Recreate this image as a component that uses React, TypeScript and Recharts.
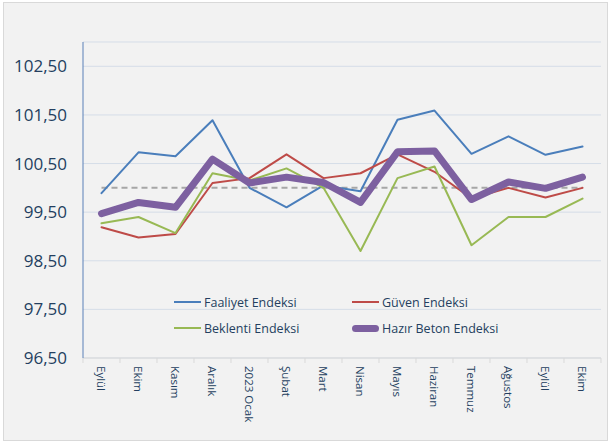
import { CartesianGrid, Line, LineChart, XAxis, YAxis } from "recharts";

const months = [
  "Eylül", "Ekim", "Kasım", "Aralık", "2023 Ocak", "Şubat", "Mart",
  "Nisan", "Mayıs", "Haziran", "Temmuz", "Ağustos", "Eylül", "Ekim",
];
const faaliyet = [99.89, 100.73, 100.65, 101.39, 100.0, 99.6, 100.05, 99.93, 101.4, 101.59, 100.7, 101.06, 100.68, 100.85];
const guven = [99.19, 98.98, 99.05, 100.1, 100.2, 100.69, 100.2, 100.3, 100.69, 100.33, 99.78, 100.0, 99.8, 100.0];
const beklenti = [99.27, 99.4, 99.07, 100.3, 100.15, 100.4, 100.0, 98.7, 100.2, 100.44, 98.82, 99.4, 99.4, 99.78];
const hazirBeton = [99.47, 99.7, 99.6, 100.59, 100.1, 100.22, 100.11, 99.7, 100.74, 100.76, 99.76, 100.12, 99.99, 100.22];
const baseline = [100, 100, 100, 100, 100, 100, 100, 100, 100, 100, 100, 100, 100, 100];
const yTicks = [96.5, 97.5, 98.5, 99.5, 100.5, 101.5, 102.5];

const series = [
  { key: "faaliyet", name: "Faaliyet Endeksi", color: "#4a7ebb", width: 2 },
  { key: "guven", name: "Güven Endeksi", color: "#be4b48", width: 2 },
  { key: "beklenti", name: "Beklenti Endeksi", color: "#98b954", width: 2 },
  { key: "hazirBeton", name: "Hazır Beton Endeksi", color: "#7d60a0", width: 7 },
];

const data = months.map((month, i) => ({
  month,
  faaliyet: faaliyet[i],
  guven: guven[i],
  beklenti: beklenti[i],
  hazirBeton: hazirBeton[i],
  baseline: baseline[i],
}));

const textColor = "#243f60";
const font = "'Open Sans', sans-serif";
const band = 37;

function MonthTick({ x, y, payload, index }: any) {
  return (
    <g>
      <line x1={x - band / 2} y1={y} x2={x - band / 2} y2={y + 5} stroke="#d9d9d9" />
      {index === months.length - 1 && (
        <line x1={x + band / 2} y1={y} x2={x + band / 2} y2={y + 5} stroke="#d9d9d9" />
      )}
      <text
        x={0}
        y={0}
        dy="0.35em"
        transform={`translate(${x},${y + 8}) rotate(90)`}
        textAnchor="start"
        fill={textColor}
        fontSize={11.5}
        fontFamily={font}
      >
        {payload.value}
      </text>
    </g>
  );
}

function LegendBox() {
  return (
    <div
      style={{
        position: "absolute",
        left: 174,
        top: 293,
        display: "grid",
        gridTemplateColumns: "178px 220px",
        rowGap: 8,
        fontFamily: font,
        fontSize: 12.5,
        color: textColor,
      }}
    >
      {series.map((s) => (
        <div key={s.key} style={{ display: "flex", alignItems: "center", height: 18, whiteSpace: "nowrap" }}>
          <span
            style={{
              display: "inline-block",
              width: 27,
              height: s.width,
              background: s.color,
              borderRadius: s.width > 3 ? 4 : 0,
              marginRight: 3,
            }}
          />
          {s.name}
        </div>
      ))}
    </div>
  );
}

export default function App() {
  return (
    <div style={{ position: "fixed", left: 0, top: 0, width: 610, height: 445, background: "#fff" }}>
      <div
        style={{
          position: "absolute",
          left: 3,
          top: 2,
          width: 603,
          height: 437,
          background: "#f2f2f2",
          border: "1px solid #d9d9d9",
        }}
      />
      <div style={{ position: "absolute", left: 0, top: 0 }}>
        <LineChart width={610} height={445} data={data} margin={{ top: 42, right: 9, left: 0, bottom: 0 }}>
          <CartesianGrid horizontal vertical={false} stroke="#d5dde8" />
          <XAxis
            dataKey="month"
            interval={0}
            height={87}
            padding={{ left: band / 2, right: band / 2 }}
            axisLine={{ stroke: "#d9d9d9" }}
            tickLine={false}
            tickSize={0}
            tickMargin={0}
            tick={<MonthTick />}
          />
          <YAxis
            width={83}
            domain={[96.5, 103]}
            ticks={yTicks}
            allowDataOverflow
            axisLine={{ stroke: "#5a80b8" }}
            tickLine={false}
            tickSize={0}
            tickMargin={16}
            tickFormatter={(v: number) => v.toFixed(2).replace(".", ",")}
            tick={{ fill: textColor, fontSize: 17, fontFamily: font }}
          />
          <Line
            dataKey="baseline"
            stroke="#a6a6a6"
            strokeWidth={2}
            strokeDasharray="6 4"
            dot={false}
            legendType="none"
            isAnimationActive={false}
          />
          {series.map((s) => (
            <Line
              key={s.key}
              dataKey={s.key}
              name={s.name}
              stroke={s.color}
              strokeWidth={s.width}
              strokeLinecap="round"
              strokeLinejoin="round"
              dot={false}
              isAnimationActive={false}
            />
          ))}
        </LineChart>
      </div>
      <LegendBox />
    </div>
  );
}
